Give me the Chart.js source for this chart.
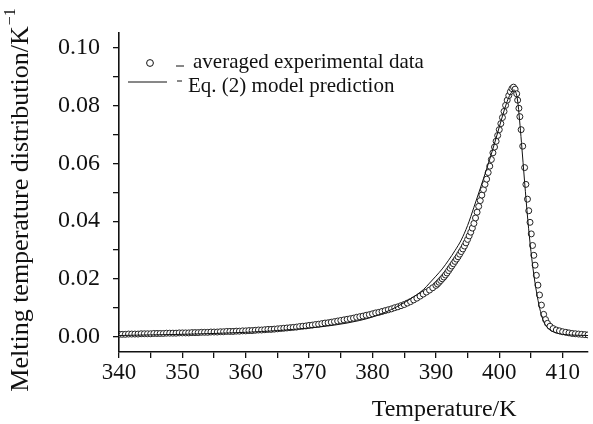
<!DOCTYPE html>
<html>
<head>
<meta charset="utf-8">
<script src="https://cdn.jsdelivr.net/npm/chart.js@4.4.1/dist/chart.umd.min.js"></script>
<style>
  html, body { margin: 0; padding: 0; background: #fff; overflow: hidden; }
  #wrap { width: 593px; height: 424px; position: relative; }
</style>
</head>
<body>
<div id="wrap"><canvas id="meltChart"></canvas></div>
<script>
// === Data ===
const expT = [
  340.0, 340.5, 341.0, 341.5, 342.0, 342.5, 343.0, 343.5, 344.0, 344.5,
  345.0, 345.5, 346.0, 346.5, 347.0, 347.5, 348.0, 348.5, 349.0, 349.5,
  350.0, 350.5, 351.0, 351.5, 352.0, 352.5, 353.0, 353.5, 354.0, 354.5,
  355.0, 355.5, 356.0, 356.5, 357.0, 357.5, 358.0, 358.5, 359.0, 359.5,
  360.0, 360.5, 361.0, 361.5, 362.0, 362.5, 363.0, 363.5, 364.0, 364.5,
  365.0, 365.5, 366.0, 366.5, 367.0, 367.5, 368.0, 368.5, 369.0, 369.5,
  370.0, 370.5, 371.0, 371.5, 372.0, 372.5, 373.0, 373.5, 374.0, 374.5,
  375.0, 375.5, 376.0, 376.5, 377.0, 377.5, 378.0, 378.5, 379.0, 379.5,
  380.0, 380.5, 381.0, 381.5, 382.0, 382.5, 383.0, 383.5, 384.0, 384.5,
  385.0, 385.5, 386.0, 386.5, 387.0, 387.5, 388.0, 388.5, 389.0, 389.5,
  390.0, 390.25, 390.5, 390.75, 391.0, 391.25, 391.5, 391.75,
  392.0, 392.25, 392.5, 392.75, 393.0, 393.25, 393.5, 393.75,
  394.0, 394.25, 394.5, 394.75, 395.0, 395.25, 395.5, 395.75,
  396.0, 396.25, 396.5, 396.75, 397.0, 397.25, 397.5, 397.75,
  398.0, 398.25, 398.5, 398.75, 399.0, 399.25, 399.5, 399.75,
  400.0, 400.25, 400.5, 400.75, 401.0, 401.25, 401.5, 401.75,
  402.0, 402.25, 402.5, 402.75, 402.9, 403.1, 403.25, 403.45,
  403.7, 404.0, 404.2, 404.45, 404.65, 404.85, 405.05, 405.25,
  405.45, 405.65, 405.85, 406.1, 406.35, 406.65, 407.0, 407.3,
  407.6, 408.0, 408.5, 409.0, 409.5, 410.0, 410.5, 411.0,
  411.5, 412.0, 412.5, 413.0, 413.5, 414.0
];
const expV = [
  0.0009, 0.0009, 0.0009, 0.0010, 0.0010, 0.0010, 0.0010, 0.0011, 0.0011, 0.0011,
  0.0011, 0.0012, 0.0012, 0.0012, 0.0012, 0.0013, 0.0013, 0.0013, 0.0013, 0.0014,
  0.0014, 0.0014, 0.0014, 0.0015, 0.0015, 0.0015, 0.0016, 0.0016, 0.0016, 0.0017,
  0.0017, 0.0017, 0.0018, 0.0018, 0.0019, 0.0019, 0.0019, 0.0020, 0.0020, 0.0021,
  0.0021, 0.0022, 0.0022, 0.0023, 0.0024, 0.0024, 0.0025, 0.0026, 0.0026, 0.0027,
  0.0028, 0.0029, 0.0030, 0.0031, 0.0032, 0.0033, 0.0034, 0.0036, 0.0037, 0.0038,
  0.0040, 0.0041, 0.0043, 0.0044, 0.0046, 0.0048, 0.0049, 0.0051, 0.0053, 0.0055,
  0.0057, 0.0059, 0.0061, 0.0063, 0.0065, 0.0068, 0.0070, 0.0072, 0.0075, 0.0077,
  0.0080, 0.0083, 0.0085, 0.0088, 0.0091, 0.0094, 0.0097, 0.0101, 0.0104, 0.0108,
  0.0112, 0.0117, 0.0122, 0.0128, 0.0134, 0.0141, 0.0148, 0.0155, 0.0162, 0.0170,
  0.0178, 0.0183, 0.0189, 0.0195, 0.0201, 0.0207, 0.0214, 0.0221,
  0.0229, 0.0237, 0.0245, 0.0253, 0.0261, 0.0269, 0.0277, 0.0286,
  0.0295, 0.0304, 0.0314, 0.0325, 0.0337, 0.0349, 0.0362, 0.0376,
  0.0392, 0.0411, 0.0431, 0.0451, 0.0471, 0.0490, 0.0509, 0.0527,
  0.0545, 0.0568, 0.0590, 0.0613, 0.0636, 0.0656, 0.0676, 0.0696,
  0.0716, 0.0737, 0.0758, 0.0779, 0.0800, 0.0818, 0.0834, 0.0847,
  0.0858, 0.0863, 0.0856, 0.0840, 0.0818, 0.0790, 0.0761, 0.0716,
  0.0659, 0.0585, 0.0527, 0.0476, 0.0436, 0.0396, 0.0356, 0.0316,
  0.0282, 0.0248, 0.0213, 0.0179, 0.0145, 0.0110, 0.0078, 0.0060,
  0.0047, 0.0037, 0.0029, 0.0024, 0.0021, 0.0018, 0.0016, 0.0014,
  0.0012, 0.0011, 0.0010, 0.0009, 0.0008, 0.0007
];

const modelT = [
  340, 345, 350, 355, 360, 365, 370, 374, 378, 380,
  382, 384, 386, 388, 389, 390, 391, 392, 393, 394,
  395, 396, 397, 398, 399, 400, 400.6, 401, 401.5, 402,
  402.3, 402.6, 402.9, 403.2, 403.5, 404, 404.5, 405, 405.5, 406,
  406.5, 407, 407.5, 408, 409, 410, 412, 414
];
const modelV = [
  0.0005, 0.0007, 0.0009, 0.0012, 0.0016, 0.0022, 0.0031, 0.0041, 0.0057, 0.0069,
  0.0085, 0.0106, 0.0132, 0.0163, 0.0186, 0.0210, 0.0235, 0.0265, 0.0298, 0.0335,
  0.0385, 0.0448, 0.0513, 0.0580, 0.0650, 0.0725, 0.0770, 0.0798, 0.0828, 0.0847,
  0.0853, 0.0846, 0.0815, 0.0750, 0.0672, 0.0535, 0.0405, 0.0295, 0.0208, 0.0140,
  0.0088, 0.0054, 0.0035, 0.0024, 0.0014, 0.0009, 0.0006, 0.0005
];

// axis ticks (labels only on the major ones)
const xTickValues = [340, 345, 350, 355, 360, 365, 370, 375, 380, 385, 390, 395, 400, 405, 410];
const xMajor = [340, 350, 360, 370, 380, 390, 400, 410];
const yTickValues = [0, 0.01, 0.02, 0.03, 0.04, 0.05, 0.06, 0.07, 0.08, 0.09, 0.10];
const yMajor = [0, 0.02, 0.04, 0.06, 0.08, 0.10];

const legendLabels = ["averaged experimental data", "Eq. (2) model prediction"];
const xTitle = "Temperature/K";
const yTitle = "Melting temperature distribution/K";
const yTitleSup = "\u22121";

const SERIF = "'Liberation Serif', 'Times New Roman', serif";
const INK = "#111";

// === Legend + axis titles, drawn on the canvas ===
const annotations = {
  id: "annotations",
  afterDraw(chart) {
    const ctx = chart.ctx;
    const area = chart.chartArea;
    const xs = chart.scales.x;
    ctx.save();
    ctx.fillStyle = INK;
    ctx.strokeStyle = INK;

    // legend
    const lx = area.left;
    const ly = area.top;
    ctx.lineWidth = 1;
    ctx.beginPath();
    ctx.arc(lx + 31, ly + 30, 3.4, 0, Math.PI * 2);
    ctx.stroke();
    ctx.beginPath();
    ctx.moveTo(lx + 57, ly + 33); ctx.lineTo(lx + 65, ly + 33);
    ctx.stroke();
    ctx.beginPath();
    ctx.moveTo(lx + 9, ly + 49); ctx.lineTo(lx + 48, ly + 49);
    ctx.moveTo(lx + 58, ly + 48); ctx.lineTo(lx + 63, ly + 48);
    ctx.stroke();

    ctx.font = "21px " + SERIF;
    ctx.textBaseline = "alphabetic";
    ctx.textAlign = "left";
    ctx.fillText(legendLabels[0], lx + 74, ly + 35);
    ctx.fillText(legendLabels[1], lx + 69, ly + 59);

    // x title
    ctx.font = "24px " + SERIF;
    ctx.textAlign = "center";
    ctx.textBaseline = "middle";
    ctx.fillText(xTitle, xs.getPixelForValue(391.3), area.bottom + 58);

    // y title (rotated, with superscript)
    ctx.translate(21, (area.top + area.bottom) / 2 + 8);
    ctx.rotate(-Math.PI / 2);
    ctx.font = "26px " + SERIF;
    const w1 = ctx.measureText(yTitle).width;
    ctx.font = "16px " + SERIF;
    const w2 = ctx.measureText(yTitleSup).width;
    const start = -(w1 + w2) / 2;
    ctx.textAlign = "left";
    ctx.font = "26px " + SERIF;
    ctx.fillText(yTitle, start, 0);
    ctx.font = "16px " + SERIF;
    ctx.fillText(yTitleSup, start + w1 + 1, -10);
    ctx.restore();
  }
};

// === Chart ===
const ctx = document.getElementById("meltChart").getContext("2d");
const meltChart = new Chart(ctx, {
  type: "scatter",
  data: {
    datasets: [
      {
        label: legendLabels[1],
        data: modelT.map((t, i) => ({ x: t, y: modelV[i] })),
        showLine: true,
        borderColor: "#111",
        borderWidth: 1,
        pointRadius: 0,
        cubicInterpolationMode: "monotone",
        order: 0
      },
      {
        label: legendLabels[0],
        data: expT.map((t, i) => ({ x: t, y: expV[i] })),
        showLine: false,
        pointStyle: "circle",
        pointRadius: 3,
        pointBorderWidth: 1,
        pointBorderColor: "#222",
        pointBackgroundColor: "#fff",
        order: 1
      }
    ]
  },
  options: {
    responsive: true,
    maintainAspectRatio: false,
    devicePixelRatio: 1,
    animation: false,
    layout: { padding: { top: 33, right: -5, left: 0, bottom: 0 } },
    plugins: {
      legend: { display: false },
      tooltip: { enabled: false }
    },
    scales: {
      x: {
        type: "linear",
        min: 340,
        max: 414,
        afterBuildTicks: s => { s.ticks = xTickValues.map(v => ({ value: v })); },
        afterFit: s => { s.height = 72; },
        ticks: {
          autoSkip: false,
          maxRotation: 0,
          padding: 1,
          color: INK,
          font: { family: SERIF, size: 23 },
          callback: v => xMajor.includes(v) ? String(v) : ""
        },
        grid: { drawOnChartArea: false, drawTicks: true, tickLength: 6, color: INK, lineWidth: 1.3 },
        border: { display: true, color: INK, width: 1.6 }
      },
      y: {
        type: "linear",
        min: -0.0052,
        max: 0.105,
        afterBuildTicks: s => { s.ticks = yTickValues.map(v => ({ value: v })); },
        afterFit: s => { s.width = 119; },
        ticks: {
          autoSkip: false,
          padding: 13,
          color: INK,
          font: { family: SERIF, size: 24 },
          callback: v => yMajor.some(m => Math.abs(m - v) < 1e-9) ? v.toFixed(2) : ""
        },
        grid: { drawOnChartArea: false, drawTicks: true, tickLength: 6, color: INK, lineWidth: 1.3 },
        border: { display: true, color: INK, width: 1.6 }
      }
    }
  },
  plugins: [annotations]
});
</script>
</body>
</html>
